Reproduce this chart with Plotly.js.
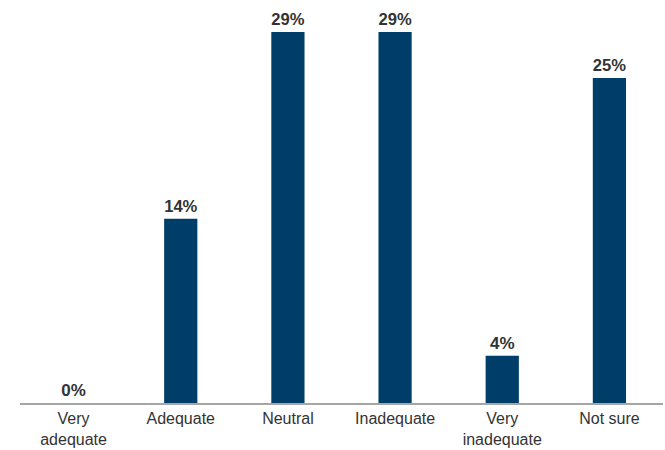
<!DOCTYPE html>
<html>
<head>
<meta charset="utf-8">
<script src="https://cdn.plot.ly/plotly-3.0.1.min.js"></script>
<style>html,body{margin:0;padding:0;background:#fff;}#chart{width:665px;height:450px;}</style>
</head>
<body>
<div id="chart"></div>
<script>
var categories = ["Very<br>adequate", "Adequate", "Neutral", "Inadequate", "Very<br>inadequate", "Not sure"];
var values = [0, 14.4, 29, 29, 3.7, 25.4];
var labels = ["0%", "14%", "29%", "29%", "4%", "25%"];

var trace = {
  type: "bar",
  x: categories,
  y: values,
  text: labels,
  textposition: "outside",
  cliponaxis: false,
  textfont: {family: "Liberation Sans, Arial, sans-serif", size: 17, color: "#333333", weight: "bold"},
  marker: {color: "#003e6a"},
  hoverinfo: "none"
};

var layout = {
  width: 665,
  height: 450,
  margin: {l: 20, r: 2, t: 0, b: 47},
  paper_bgcolor: "#ffffff",
  plot_bgcolor: "#ffffff",
  bargap: 0.69,
  showlegend: false,
  font: {family: "Liberation Sans, Arial, sans-serif", color: "#333333"},
  xaxis: {
    type: "category",
    showline: true,
    linecolor: "#a6a6a6",
    linewidth: 1.5,
    ticks: "",
    tickfont: {size: 16, color: "#333333"},
    showgrid: false,
    zeroline: false
  },
  yaxis: {
    range: [0, 31.5],
    visible: false,
    showgrid: false,
    zeroline: false
  }
};

Plotly.newPlot("chart", [trace], layout, {displayModeBar: false, staticPlot: true});
</script>
</body>
</html>
